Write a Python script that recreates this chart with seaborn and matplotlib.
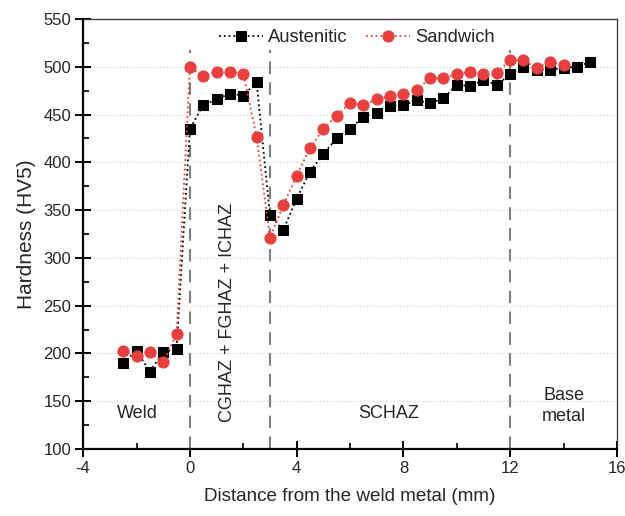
import matplotlib
matplotlib.use("Agg")
import matplotlib.pyplot as plt
import seaborn as sns
import pandas as pd

distance_aus = [-2.5, -2.0, -1.5, -1.0, -0.5, 0.0, 0.5, 1.0, 1.5, 2.0, 2.5, 3.0, 3.5, 4.0, 4.5,
                5.0, 5.5, 6.0, 6.5, 7.0, 7.5, 8.0, 8.5, 9.0, 9.5, 10.0, 10.5, 11.0, 11.5,
                12.0, 12.5, 13.0, 13.5, 14.0, 14.5, 15.0]
hardness_aus = [190, 203, 181, 201, 205, 435, 460, 466, 472, 470, 484, 345, 329, 362, 390,
                409, 425, 435, 448, 452, 459, 460, 465, 462, 467, 481, 480, 486, 481,
                492, 500, 497, 497, 499, 500, 505]
distance_sand = [-2.5, -2.0, -1.5, -1.0, -0.5, 0.0, 0.5, 1.0, 1.5, 2.0, 2.5, 3.0, 3.5, 4.0, 4.5,
                 5.0, 5.5, 6.0, 6.5, 7.0, 7.5, 8.0, 8.5, 9.0, 9.5, 10.0, 10.5, 11.0, 11.5,
                 12.0, 12.5, 13.0, 13.5, 14.0]
hardness_sand = [202, 197, 201, 191, 220, 500, 490, 495, 495, 493, 427, 321, 355, 386, 415,
                 435, 449, 462, 460, 466, 469, 472, 476, 488, 488, 492, 495, 492, 494,
                 507, 507, 499, 505, 502]
zone_bounds = [0, 3, 12]
zone_labels = ["Weld", "CGHAZ + FGHAZ + ICHAZ", "SCHAZ", "Base\nmetal"]

sns.set_style("white")
plt.rcParams['font.family'] = ['Liberation Sans', 'DejaVu Sans']
plt.rcParams['axes.unicode_minus'] = False

df = pd.concat([
    pd.DataFrame({"Distance": distance_aus, "Hardness": hardness_aus, "Series": "Austenitic"}),
    pd.DataFrame({"Distance": distance_sand, "Hardness": hardness_sand, "Series": "Sandwich"}),
])

fig = plt.figure(figsize=(6.25, 5.16), dpi=100)
ax = fig.add_axes([0.133, 0.130, 0.854, 0.833])

ax.set_xlim(-4, 16)
ax.set_ylim(100, 550)
ax.set_yticks(range(100, 551, 50))
ax.set_yticks(range(125, 550, 50), minor=True)
ax.set_xticks(range(-4, 17, 4))
ax.set_xticks(range(-2, 16, 4), minor=True)
ax.yaxis.grid(True, which='major', color='#d0d0d0', linestyle=(0, (1, 2)), linewidth=0.8)
ax.xaxis.grid(False)
ax.set_axisbelow(True)

for b in zone_bounds:
    ax.plot([b, b], [100, 518], color='#808080', linestyle=(0, (6, 4)), linewidth=1.5, zorder=1)

sns.lineplot(data=df[df.Series == "Austenitic"], x="Distance", y="Hardness", ax=ax,
             color='black', linestyle=':', linewidth=1.3, marker='s', markersize=6.5,
             markeredgecolor='black', label='Austenitic', zorder=3)
sns.lineplot(data=df[df.Series == "Sandwich"], x="Distance", y="Hardness", ax=ax,
             color='#e8403f', linestyle=':', linewidth=1.3, marker='o', markersize=8,
             markeredgecolor='#e8403f', label='Sandwich', zorder=4)

ax.text(-1.97, 137, zone_labels[0], fontsize=13, ha='center', va='center')
ax.text(1.42, 243, zone_labels[1], fontsize=13, ha='center', va='center', rotation=90)
ax.text(7.46, 137, zone_labels[2], fontsize=13, ha='center', va='center')
ax.text(14.02, 145, zone_labels[3], fontsize=13, ha='center', va='center', linespacing=1.3)

ax.set_xlabel("Distance from the weld metal (mm)", fontsize=13.6, labelpad=9)
ax.set_ylabel("Hardness (HV5)", fontsize=15, labelpad=5)

for s in ['left', 'bottom']:
    ax.spines[s].set_linewidth(1.6)
    ax.spines[s].set_color('black')
for s in ['top', 'right']:
    ax.spines[s].set_linewidth(0.9)
    ax.spines[s].set_color('#333333')

ax.tick_params(axis='both', which='both', bottom=True, left=True, top=False, right=False)
ax.tick_params(axis='both', which='major', direction='inout', length=11, width=1.4,
               labelsize=12, color='black', pad=3)
ax.tick_params(axis='both', which='minor', direction='in', length=4, width=1.2, color='black')

leg = ax.legend(loc='upper center', bbox_to_anchor=(0.513, 1.0), ncol=2, frameon=False,
                fontsize=13.2, handlelength=2.4, columnspacing=1.0, handletextpad=0.3,
                borderaxespad=0.15)

fig.savefig("out.png", dpi=100)
